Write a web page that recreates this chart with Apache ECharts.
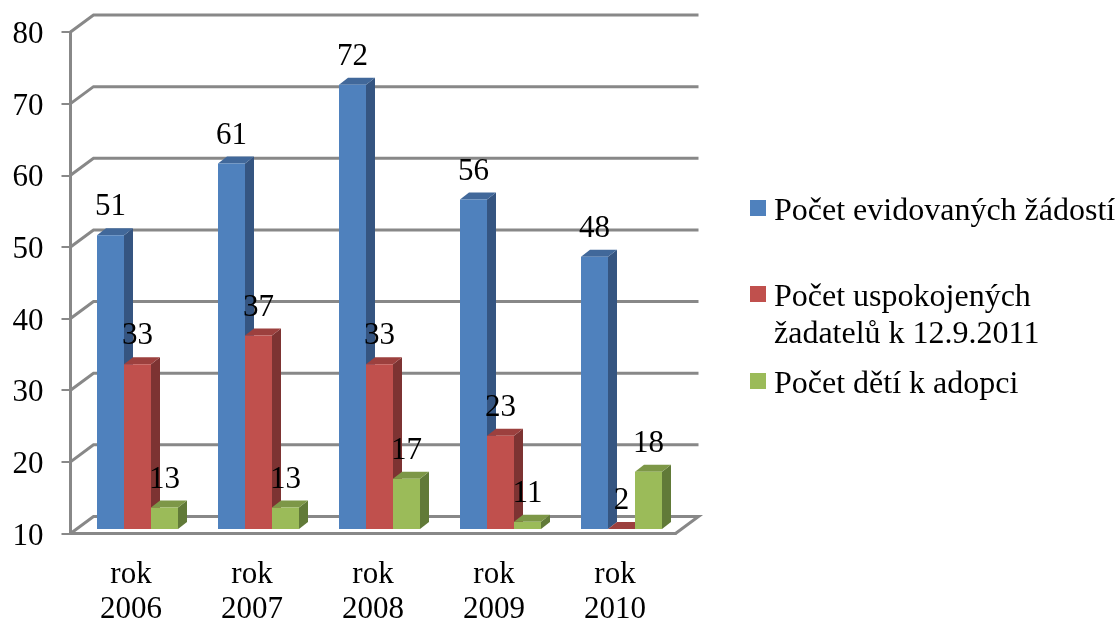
<!DOCTYPE html>
<html>
<head>
<meta charset="utf-8">
<script src="https://cdn.jsdelivr.net/npm/echarts@6/dist/echarts.min.js"></script>
<style>
  html, body { margin: 0; padding: 0; background: #fff; }
  #chart { width: 1119px; height: 623px; }
</style>
</head>
<body>
<div id="chart"></div>
<script>
const categories = ['rok\n2006', 'rok\n2007', 'rok\n2008', 'rok\n2009', 'rok\n2010']
const requests = [51, 61, 72, 56, 48]
const satisfied = [33, 37, 33, 23, 2]
const children = [13, 13, 17, 11, 18]
const yTicks = [10, 20, 30, 40, 50, 60, 70, 80]
const seriesNames = ['Počet evidovaných žádostí', 'Počet uspokojených\nžadatelů k 12.9.2011', 'Počet dětí k adopci']

const FONT = "'Liberation Serif', 'Times New Roman', serif"
const GRID_COLOR = '#888888'
const Y_MIN = 10
const Y_MAX = 80
// 3d look: offset of the back wall, of a bar's depth, and how far bars stand off the front edge
const WALL_DX = 23
const WALL_DY = -17
const DEPTH_DX = 9
const DEPTH_DY = -7
const FLOOR_SHIFT = 4.5
const BAR_W = 27
const GROUP_SHIFT = 6.5

const shades = [
  { front: '#4f81bd', top: '#41689a', side: '#355581' },
  { front: '#c0504d', top: '#9c403e', side: '#7d3332' },
  { front: '#9bbb59', top: '#7d9747', side: '#617a38' },
]

function renderWall(params, api) {
  const cs = params.coordSys
  const tick = api.value(1)
  const y = api.coord([0, tick])[1]
  const points = [
    [cs.x, y],
    [cs.x + WALL_DX, y + WALL_DY],
    [cs.x + cs.width + WALL_DX, y + WALL_DY],
  ]
  if (tick === Y_MIN) points.push([cs.x + cs.width, y])
  return {
    type: 'polyline',
    shape: { points },
    style: { stroke: GRID_COLOR, lineWidth: 3, fill: null },
  }
}

function renderBar(seriesIndex) {
  const c = shades[seriesIndex]
  return (params, api) => {
    const cat = api.value(0)
    const val = api.value(1)
    const base = api.coord([cat, Y_MIN])
    const top = api.coord([cat, Math.max(val, Y_MIN)])
    const x0 = base[0] + GROUP_SHIFT + (seriesIndex - 1.5) * BAR_W
    const x1 = x0 + BAR_W
    const yb = base[1] - FLOOR_SHIFT
    const yt = top[1] - FLOOR_SHIFT
    const poly = (points, fill) => ({ type: 'polygon', shape: { points }, style: { fill } })
    return {
      type: 'group',
      children: [
        poly([[x1, yb], [x1 + DEPTH_DX, yb + DEPTH_DY], [x1 + DEPTH_DX, yt + DEPTH_DY], [x1, yt]], c.side),
        poly([[x0, yt], [x1, yt], [x1 + DEPTH_DX, yt + DEPTH_DY], [x0 + DEPTH_DX, yt + DEPTH_DY]], c.top),
        poly([[x0, yb], [x1, yb], [x1, yt], [x0, yt]], c.front),
        {
          type: 'text',
          z2: 100,
          style: {
            text: String(val),
            x: (x0 + x1) / 2,
            y: yt - 28,
            align: 'center',
            verticalAlign: 'middle',
            fontSize: 31,
            fontFamily: FONT,
            fill: '#000',
          },
        },
      ],
    }
  }
}

function barSeries(index, values) {
  return {
    type: 'custom',
    name: seriesNames[index],
    data: values.map((v, i) => [i, v]),
    encode: { x: 0, y: 1 },
    itemStyle: { color: shades[index].front },
    renderItem: renderBar(index),
    clip: false,
    z: 3,
    silent: true,
  }
}

// thin "s" spacer line pushes the text just below the marker; the blank line
// keeps the marker level with the first line of a wrapped name
function legendFormatter(name) {
  const lines = name.split('\n')
  if (lines.length === 1) return `{s|\u00a0}\n{t|${name}}`
  return `{s|\u00a0}\n{t|\u00a0}\n{t|${lines[0]}}\n{t|${lines[1]}}`
}

function legendAt(index, top) {
  const base = { fontFamily: FONT, fontSize: 32, color: '#000', lineHeight: 37 }
  return {
    data: [seriesNames[index]],
    left: 750,
    top,
    padding: 0,
    icon: 'rect',
    itemWidth: 16,
    itemHeight: 16,
    selectedMode: false,
    formatter: legendFormatter,
    textStyle: {
      ...base,
      rich: {
        t: { ...base, padding: [0, 0, 0, 3] },
        s: { fontSize: 1, lineHeight: 7 },
      },
    },
  }
}

const chart = echarts.init(document.getElementById('chart'), null, { renderer: 'canvas' })
chart.setOption({
  animation: false,
  backgroundColor: '#fff',
  grid: { left: 70.5, right: 443.5, top: 32, bottom: 89.5, outerBoundsMode: 'none' },
  legend: [legendAt(0, 186), legendAt(1, 235), legendAt(2, 359)],
  xAxis: {
    type: 'category',
    data: categories,
    axisLine: { lineStyle: { color: GRID_COLOR, width: 3 } },
    axisTick: { length: 9, lineStyle: { color: GRID_COLOR, width: 2 } },
    axisLabel: { color: '#000', fontFamily: FONT, fontSize: 31, lineHeight: 35, margin: 24, interval: 0 },
  },
  yAxis: {
    type: 'value',
    min: Y_MIN,
    max: Y_MAX,
    interval: 10,
    splitLine: { show: false },
    axisLine: { show: true, lineStyle: { color: GRID_COLOR, width: 3 } },
    axisTick: { show: true, length: 9, lineStyle: { color: GRID_COLOR, width: 2 } },
    // top-aligned with a short line box drops the digits a little below the tick
    axisLabel: { color: '#000', fontFamily: FONT, fontSize: 31, margin: 27, verticalAlign: 'top', lineHeight: 6 },
  },
  series: [
    {
      type: 'custom',
      data: yTicks.map((t) => [0, t]),
      encode: { x: 0, y: 1 },
      renderItem: renderWall,
      clip: false,
      z: 1,
      silent: true,
    },
    barSeries(0, requests),
    barSeries(1, satisfied),
    barSeries(2, children),
  ],
})
</script>
</body>
</html>
